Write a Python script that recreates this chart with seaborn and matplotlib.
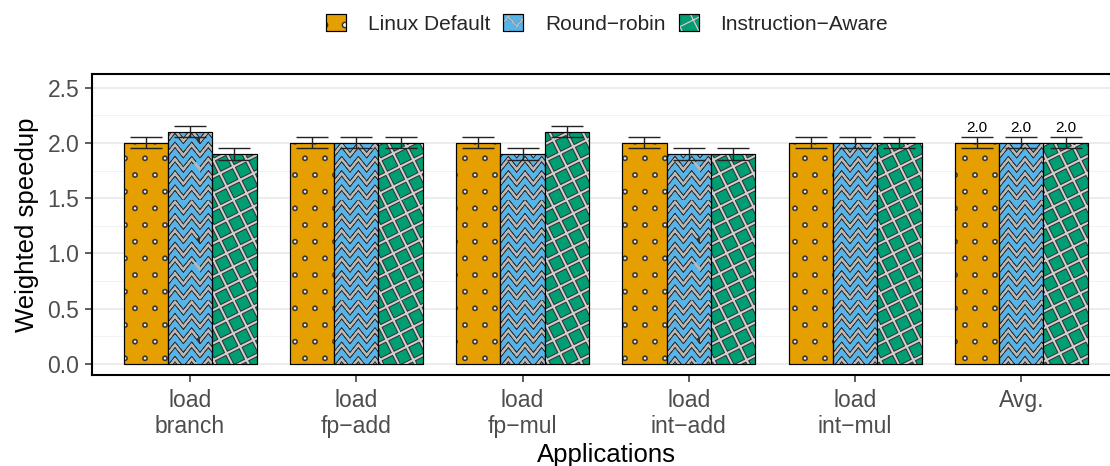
import warnings
import numpy as np
import pandas as pd
import seaborn as sns
import matplotlib
matplotlib.use("Agg")
from matplotlib import pyplot as plt
import matplotlib.hatch as mhatch
from matplotlib.path import Path
from matplotlib.patches import Rectangle, Patch
from matplotlib.colors import to_rgba
from matplotlib.legend_handler import HandlerTuple
from matplotlib.ticker import MultipleLocator

warnings.filterwarnings("ignore")

# data
apps = ["load\nbranch", "load\nfp\u2212add", "load\nfp\u2212mul",
        "load\nint\u2212add", "load\nint\u2212mul", "Avg."]
schedulers = ["Linux Default", "Round\u2212robin", "Instruction\u2212Aware"]
linux_default = [2.0, 2.0, 2.0, 2.0, 2.0, 2.0]
round_robin = [2.1, 2.0, 1.9, 1.9, 2.0, 2.0]
instr_aware = [1.9, 2.0, 2.1, 1.9, 2.0, 2.0]
err_linux = [0.05, 0.05, 0.05, 0.05, 0.05, 0.05]
err_rr = [0.05, 0.05, 0.05, 0.05, 0.05, 0.05]
err_ia = [0.05, 0.05, 0.05, 0.05, 0.05, 0.05]
avg_labels = ["2.0", "2.0", "2.0"]

colors = ["#E69F00", "#56B4E9", "#009E73"]
# base hatch / overlay hatch per scheduler
hatches = ["d", "z", "c"]
over_hatches = ["e", "z", "c"]


# custom hatch: small dots ('d' big, 'e' small), filled polygons
class DotHatch(mhatch.HatchPatternBase):
    def __init__(self, hatch, density):
        if 'd' in hatch:
            self.r = 0.027
        elif 'e' in hatch:
            self.r = 0.012
        else:
            self.r = 0
        self.cols, self.rows, self.nseg = 5, 6, 16
        self.num_vertices = (self.cols * self.rows * (self.nseg + 1)
                             if self.r else 0)

    def set_vertices_and_codes(self, vertices, codes):
        ang = np.linspace(0, 2 * np.pi, self.nseg, endpoint=False)
        ring = np.column_stack([np.cos(ang), np.sin(ang)]) * self.r
        per = self.nseg + 1
        c = 0
        for j in range(self.rows):
            for i in range(self.cols):
                cx = ((i + 0.25 + 0.5 * (j % 2)) / self.cols) % 1.0
                cy = (j + 0.5) / self.rows
                vertices[c:c + self.nseg] = ring + (cx, cy)
                vertices[c + self.nseg] = (cx, cy)
                codes[c] = Path.MOVETO
                codes[c + 1:c + self.nseg] = Path.LINETO
                codes[c + self.nseg] = Path.CLOSEPOLY
                c += per


# custom hatch: zigzag rows ('z'), traced there and back so it has no area
class ZigZagHatch(mhatch.HatchPatternBase):
    def __init__(self, hatch, density):
        self.rows = 7 if 'z' in hatch else 0
        self.teeth = 6
        self.per = 2 * self.teeth + 1
        self.num_vertices = self.rows * (2 * self.per - 1)

    def set_vertices_and_codes(self, vertices, codes):
        n, per = self.rows, self.per
        amp = 0.052
        xs = np.linspace(0, 1, per)
        ys0 = np.where(np.arange(per) % 2 == 0, -amp, amp)
        xs = np.concatenate([xs, xs[-2::-1]])
        ys0 = np.concatenate([ys0, ys0[-2::-1]])
        L = 2 * per - 1
        for j in range(n):
            y0 = (j + 0.5) / n
            vertices[j * L:(j + 1) * L, 0] = xs
            vertices[j * L:(j + 1) * L, 1] = ys0 + y0
            codes[j * L] = Path.MOVETO
            codes[j * L + 1:(j + 1) * L] = Path.LINETO


# custom hatch: tilted crosshatch ('c')
class TiltCrossHatch(mhatch.HatchPatternBase):
    def __init__(self, hatch, density):
        self.segs = []
        if 'c' in hatch:
            m = 6
            for s, step in [(0.5, 1.0 / m), (-2.0, 2.0 / m)]:
                for b in np.arange(-3, 4, step):
                    if s > 0:
                        lo, hi = max(0, -b / s), min(1, (1 - b) / s)
                    else:
                        lo, hi = max(0, (1 - b) / s), min(1, -b / s)
                    if hi - lo > 1e-9:
                        self.segs.append(((lo, s * lo + b), (hi, s * hi + b)))
        self.num_vertices = 2 * len(self.segs)

    def set_vertices_and_codes(self, vertices, codes):
        for i, (a, b) in enumerate(self.segs):
            vertices[2 * i] = a
            vertices[2 * i + 1] = b
            codes[2 * i] = Path.MOVETO
            codes[2 * i + 1] = Path.LINETO


mhatch._hatch_types.extend([DotHatch, ZigZagHatch, TiltCrossHatch])


def style_hatch(p, color, lw):
    p._hatch_color = to_rgba(color)
    if hasattr(p, "set_hatch_linewidth"):
        p.set_hatch_linewidth(lw)
    else:
        p._hatch_linewidth = lw
    # older matplotlib reads the hatch width from rcParams at draw time
    orig = p.draw

    def draw(renderer, _orig=orig, _lw=lw):
        with plt.rc_context({'hatch.linewidth': _lw}):
            _orig(renderer)
    p.draw = draw


# hatch styles: (outer color, outer lw, inner color, inner lw)
hatch_style = [("#333333", 0.3, "#f2f2f2", 0.1),
               ("#333333", 3.0, "#b8b8b8", 1.4),
               ("#333333", 3.0, "#cfcfcf", 1.5)]

df = pd.DataFrame({
    "app": apps * 3,
    "sched": np.repeat(schedulers, len(apps)),
    "speedup": linux_default + round_robin + instr_aware,
})
errs = [err_linux, err_rr, err_ia]

sns.set_style("white")
plt.rcParams['font.family'] = ['Liberation Sans', 'DejaVu Sans']

fig = plt.figure(figsize=(11.1, 4.66), dpi=100)
ax = fig.add_axes([92 / 1110, 91 / 466, 1029 / 1110, 301 / 466])

sns.barplot(data=df, x="app", y="speedup", hue="sched", order=apps,
            hue_order=schedulers, palette=colors, saturation=1,
            width=0.8, edgecolor="black", linewidth=0.8, errorbar=None,
            legend=False, ax=ax, zorder=2)

bar_conts = list(ax.containers)
for k, cont in enumerate(bar_conts):
    oc, olw, ic, ilw = hatch_style[k]
    for i, p in enumerate(cont.patches):
        p.set_hatch(hatches[k])
        style_hatch(p, oc, olw)
        ov = Rectangle((p.get_x(), p.get_y()), p.get_width(),
                       p.get_height(), facecolor="none",
                       edgecolor="black", linewidth=0.8,
                       hatch=over_hatches[k], zorder=2.5)
        style_hatch(ov, ic, ilw)
        ax.add_patch(ov)
        xc = p.get_x() + p.get_width() / 2
        ax.errorbar(xc, p.get_height(), yerr=errs[k][i], color="#222222",
                    elinewidth=1, capsize=11.5, capthick=1, zorder=3)
        if apps[i] == "Avg.":
            ax.text(xc, p.get_height() + errs[k][i] + 0.02, avg_labels[k],
                    ha="center", va="bottom", fontsize=11, color="black")

ax.set_xlim(-0.59, 5.6)
ax.set_ylim(-0.0995, 2.624)
ax.yaxis.set_minor_locator(MultipleLocator(0.25))
ax.set_yticks(np.arange(0, 2.51, 0.5))
ax.set_yticklabels(["0.0", "0.5", "1.0", "1.5", "2.0", "2.5"])
ax.grid(which="major", axis="y", color="#ebebeb", linewidth=1.3, zorder=0)
ax.grid(which="minor", axis="y", color="#f2f2f2", linewidth=0.7, zorder=0)
ax.set_axisbelow(True)

for s in ax.spines.values():
    s.set_color("black")
    s.set_linewidth(1.5)

ax.tick_params(axis="both", which="major", length=5, width=1.1,
               color="#333333", labelcolor="#4d4d4d", labelsize=16.5,
               bottom=True, left=True, pad=4)
ax.tick_params(axis="x", which="major", pad=5)
ax.tick_params(axis="y", which="minor", length=0)
ax.set_xlabel("Applications", fontsize=18.5, color="black", labelpad=3)
ax.set_ylabel("Weighted speedup", fontsize=18.5, color="black", labelpad=6)

# legend
handles = []
for k in range(3):
    oc, olw, ic, ilw = hatch_style[k]
    base = Patch(facecolor=colors[k], edgecolor="black", linewidth=0.8,
                 hatch=hatches[k])
    style_hatch(base, oc, olw)
    top = Patch(facecolor="none", edgecolor="black", linewidth=0.8,
                hatch=over_hatches[k])
    style_hatch(top, ic, ilw)
    handles.append((base, top))

fig.legend(handles, schedulers, loc="center", bbox_to_anchor=(0.547, 0.9485),
           ncol=3, frameon=False, fontsize=15, handlelength=0.96,
           handleheight=0.82, handletextpad=1.05, columnspacing=0.62,
           handler_map={tuple: HandlerTuple(ndivide=1)})

fig.savefig("out.png", dpi=100)
